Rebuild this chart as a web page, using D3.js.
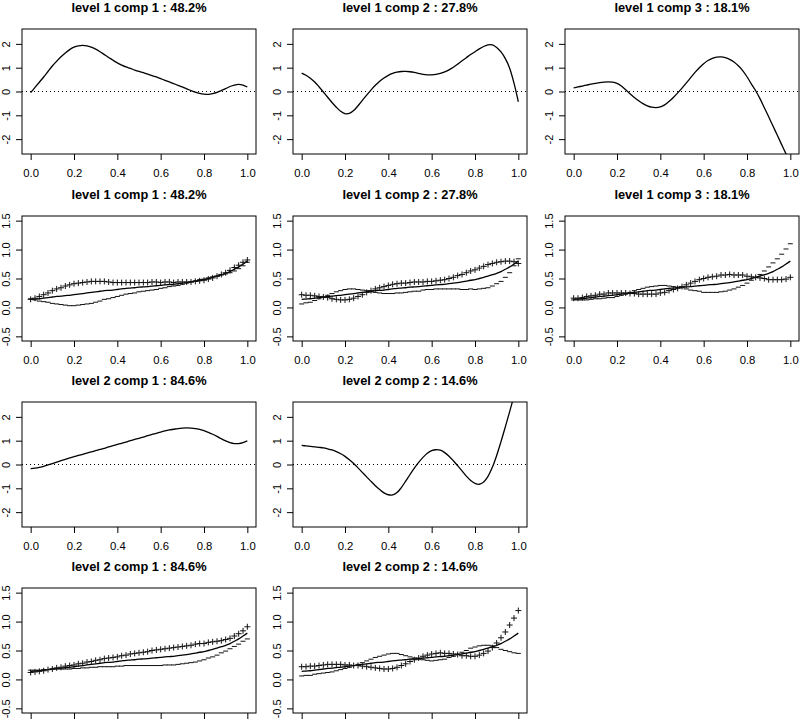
<!DOCTYPE html>
<html>
<head>
<meta charset="utf-8">
<script src="https://cdn.jsdelivr.net/npm/d3@7"></script>
<style>
body { margin: 0; background: #fff; }
svg { display: block; font-family: "Liberation Sans", Arial, Helvetica, sans-serif; }
</style>
</head>
<body>
<script>
var gridX = [0,0.02,0.04,0.06,0.08,0.1,0.12,0.14,0.16,0.18,0.2,0.22,0.24,0.26,0.28,0.3,0.32,0.34,0.36,0.38,0.4,0.42,0.44,0.46,0.48,0.5,0.52,0.54,0.56,0.58,0.6,0.62,0.64,0.66,0.68,0.7,0.72,0.74,0.76,0.78,0.8,0.82,0.84,0.86,0.88,0.9,0.92,0.94,0.96,0.98,1];
var xTicks = [0, 0.2, 0.4, 0.6, 0.8, 1];
var efTicks = [-2, -1, 0, 1, 2];
var meanTicks = [-0.5, 0, 0.5, 1, 1.5];
var titles = ["level 1 comp 1 : 48.2%", "level 1 comp 2 : 27.8%", "level 1 comp 3 : 18.1%", "level 2 comp 1 : 84.6%", "level 2 comp 2 : 14.6%"];

// overall mean function
var meanFn = [0.14,0.145,0.15,0.16,0.17,0.18,0.19,0.195,0.205,0.21,0.22,0.23,0.24,0.25,0.26,0.27,0.28,0.29,0.295,0.3,0.31,0.32,0.33,0.335,0.34,0.35,0.355,0.36,0.37,0.375,0.38,0.39,0.395,0.4,0.41,0.42,0.43,0.44,0.455,0.47,0.48,0.5,0.52,0.54,0.565,0.59,0.62,0.66,0.7,0.75,0.8];

// eigenfunctions
var efL1C1 = [-0.05,0.17,0.39,0.61,0.84,1.07,1.27,1.46,1.62,1.76,1.86,1.92,1.94,1.92,1.86,1.78,1.67,1.55,1.43,1.31,1.2,1.11,1.03,0.97,0.9,0.84,0.79,0.73,0.67,0.61,0.54,0.47,0.4,0.33,0.26,0.19,0.11,0.04,-0.03,-0.08,-0.11,-0.12,-0.09,-0.04,0.04,0.12,0.21,0.27,0.3,0.27,0.19];
var efL1C2 = [0.77,0.68,0.56,0.4,0.2,-0.02,-0.24,-0.46,-0.66,-0.83,-0.93,-0.92,-0.8,-0.6,-0.37,-0.15,0.06,0.26,0.43,0.57,0.68,0.76,0.81,0.84,0.845,0.83,0.8,0.76,0.72,0.7,0.7,0.72,0.76,0.82,0.91,1.02,1.15,1.29,1.42,1.55,1.67,1.79,1.89,1.96,1.96,1.85,1.66,1.38,0.98,0.35,-0.43];
var efL1C3 = [0.15,0.19,0.23,0.27,0.31,0.34,0.37,0.39,0.4,0.39,0.34,0.23,0.07,-0.09,-0.25,-0.39,-0.51,-0.6,-0.66,-0.68,-0.65,-0.56,-0.42,-0.25,-0.06,0.14,0.36,0.58,0.8,1,1.17,1.3,1.39,1.44,1.45,1.42,1.35,1.24,1.08,0.88,0.62,0.32,0.03,-0.3,-0.68,-1.06,-1.45,-1.84,-2.23,-2.62,-3];
var efL2C1 = [-0.17,-0.15,-0.12,-0.08,-0.02,0.04,0.1,0.16,0.22,0.28,0.33,0.38,0.43,0.48,0.53,0.58,0.63,0.68,0.74,0.79,0.84,0.89,0.94,1,1.05,1.1,1.15,1.21,1.26,1.31,1.36,1.41,1.45,1.48,1.51,1.53,1.54,1.53,1.51,1.47,1.42,1.35,1.27,1.18,1.08,0.99,0.92,0.88,0.88,0.92,0.99];
var efL2C2 = [0.8,0.78,0.76,0.74,0.72,0.7,0.66,0.61,0.54,0.45,0.34,0.2,0.04,-0.14,-0.33,-0.52,-0.71,-0.89,-1.05,-1.19,-1.27,-1.28,-1.18,-0.97,-0.7,-0.42,-0.15,0.09,0.3,0.47,0.58,0.62,0.6,0.5,0.35,0.16,-0.05,-0.27,-0.49,-0.67,-0.79,-0.83,-0.74,-0.5,-0.12,0.38,0.96,1.58,2.22,2.88,3.55];

// mean plus / minus a multiple of each eigenfunction
var plusL1C1 = [0.14,0.16,0.19,0.22,0.25,0.29,0.32,0.34,0.37,0.39,0.41,0.42,0.43,0.44,0.45,0.45,0.45,0.45,0.44,0.43,0.43,0.43,0.43,0.43,0.43,0.43,0.43,0.43,0.44,0.44,0.43,0.44,0.44,0.43,0.44,0.44,0.44,0.44,0.45,0.46,0.47,0.49,0.51,0.54,0.57,0.6,0.64,0.69,0.73,0.78,0.82];
var minusL1C1 = [0.15,0.13,0.11,0.1,0.09,0.07,0.06,0.05,0.04,0.03,0.03,0.04,0.05,0.06,0.07,0.09,0.11,0.14,0.15,0.17,0.19,0.21,0.23,0.24,0.25,0.27,0.28,0.29,0.3,0.31,0.33,0.34,0.36,0.37,0.38,0.4,0.42,0.44,0.46,0.48,0.49,0.51,0.53,0.54,0.56,0.58,0.6,0.63,0.67,0.72,0.78];
var plusL1C2 = [0.22,0.21,0.21,0.2,0.19,0.18,0.17,0.15,0.14,0.13,0.13,0.14,0.16,0.19,0.22,0.26,0.29,0.32,0.34,0.36,0.38,0.4,0.41,0.42,0.42,0.43,0.44,0.44,0.44,0.45,0.45,0.46,0.47,0.48,0.5,0.52,0.55,0.57,0.6,0.63,0.65,0.68,0.71,0.74,0.76,0.78,0.79,0.8,0.8,0.79,0.76];
var minusL1C2 = [0.06,0.08,0.09,0.12,0.15,0.18,0.21,0.24,0.27,0.29,0.31,0.32,0.32,0.31,0.3,0.29,0.27,0.26,0.25,0.24,0.24,0.24,0.25,0.25,0.26,0.27,0.28,0.28,0.3,0.31,0.31,0.32,0.32,0.32,0.32,0.32,0.32,0.31,0.31,0.32,0.31,0.32,0.33,0.34,0.37,0.41,0.45,0.52,0.6,0.72,0.84];
var plusL1C3 = [0.16,0.16,0.17,0.19,0.2,0.21,0.23,0.23,0.25,0.25,0.25,0.25,0.25,0.24,0.24,0.23,0.23,0.23,0.23,0.23,0.25,0.26,0.29,0.31,0.33,0.36,0.39,0.42,0.45,0.48,0.5,0.52,0.53,0.54,0.56,0.56,0.57,0.56,0.56,0.56,0.54,0.53,0.52,0.51,0.5,0.48,0.48,0.48,0.48,0.49,0.52];
var minusL1C3 = [0.13,0.13,0.13,0.13,0.14,0.15,0.15,0.16,0.17,0.17,0.19,0.21,0.23,0.26,0.29,0.31,0.33,0.35,0.36,0.37,0.38,0.38,0.37,0.36,0.35,0.34,0.32,0.3,0.29,0.28,0.26,0.26,0.26,0.26,0.27,0.28,0.3,0.32,0.35,0.38,0.42,0.47,0.52,0.57,0.63,0.7,0.77,0.84,0.92,1.01,1.1];
var plusL2C1 = [0.12,0.13,0.14,0.15,0.17,0.18,0.2,0.21,0.23,0.24,0.25,0.27,0.28,0.3,0.31,0.33,0.34,0.36,0.37,0.38,0.39,0.41,0.42,0.44,0.45,0.46,0.47,0.48,0.5,0.51,0.52,0.53,0.54,0.55,0.56,0.57,0.58,0.59,0.61,0.62,0.62,0.64,0.65,0.66,0.67,0.69,0.71,0.75,0.79,0.84,0.91];
var minusL2C1 = [0.16,0.16,0.16,0.17,0.17,0.18,0.18,0.18,0.18,0.18,0.19,0.19,0.2,0.2,0.21,0.21,0.22,0.22,0.22,0.22,0.23,0.23,0.24,0.24,0.24,0.24,0.24,0.24,0.24,0.24,0.24,0.25,0.25,0.25,0.26,0.27,0.28,0.29,0.3,0.32,0.34,0.37,0.39,0.42,0.46,0.49,0.53,0.57,0.61,0.66,0.7];
var plusL2C2 = [0.22,0.22,0.23,0.23,0.24,0.25,0.26,0.26,0.26,0.26,0.25,0.25,0.24,0.24,0.23,0.22,0.21,0.2,0.19,0.18,0.18,0.19,0.21,0.24,0.27,0.31,0.34,0.37,0.4,0.42,0.44,0.45,0.46,0.45,0.45,0.44,0.43,0.41,0.41,0.4,0.4,0.42,0.45,0.49,0.55,0.63,0.72,0.82,0.94,1.06,1.19];
var minusL2C2 = [0.06,0.07,0.07,0.09,0.1,0.11,0.12,0.13,0.15,0.17,0.19,0.21,0.24,0.26,0.29,0.32,0.35,0.38,0.4,0.42,0.44,0.45,0.45,0.43,0.41,0.39,0.37,0.35,0.34,0.33,0.32,0.33,0.34,0.35,0.38,0.4,0.44,0.47,0.5,0.54,0.56,0.58,0.59,0.59,0.58,0.55,0.52,0.5,0.48,0.46,0.45];

var width = 800;
var height = 720;
var colLeft = [22, 293, 565];
var rowTop = [29, 216, 402, 588];
var boxW = 234;
var boxH = 125;

var svg = d3.select("body").append("svg")
    .attr("width", width)
    .attr("height", height);

var clipCount = 0;

drawEigenPanel(0, 0, titles[0], efL1C1);
drawEigenPanel(1, 0, titles[1], efL1C2);
drawEigenPanel(2, 0, titles[2], efL1C3);
drawMeanPanel(0, 1, titles[0], plusL1C1, minusL1C1);
drawMeanPanel(1, 1, titles[1], plusL1C2, minusL1C2);
drawMeanPanel(2, 1, titles[2], plusL1C3, minusL1C3);
drawEigenPanel(0, 2, titles[3], efL2C1);
drawEigenPanel(1, 2, titles[4], efL2C2);
drawMeanPanel(0, 3, titles[3], plusL2C1, minusL2C1);
drawMeanPanel(1, 3, titles[4], plusL2C2, minusL2C2);

function setupPanel(col, row, title, yDomain, yTicks, yFormat) {
    var g = svg.append("g")
        .attr("transform", "translate(" + colLeft[col] + "," + rowTop[row] + ")");
    var x = d3.scaleLinear().domain([-0.04, 1.04]).range([0, boxW]);
    var span = yDomain[1] - yDomain[0];
    var y = d3.scaleLinear()
        .domain([yDomain[0] - span * 0.04, yDomain[1] + span * 0.04])
        .range([boxH, 0]);

    // the bottom row's tick labels fall below the page, as in the original
    var showXLabels = rowTop[row] + boxH + 12 < height;
    var xAxis = g.append("g")
        .attr("transform", "translate(0," + boxH + ")")
        .call(d3.axisBottom(x).tickValues(xTicks).tickSize(6)
            .tickFormat(showXLabels ? d3.format(".1f") : ""));
    xAxis.select(".domain").remove();
    xAxis.selectAll("text").attr("y", 22.5).attr("dy", null).attr("font-size", 11.3);

    var yAxis = g.append("g")
        .call(d3.axisLeft(y).tickValues(yTicks).tickSize(6).tickFormat(yFormat));
    yAxis.select(".domain").remove();
    yAxis.selectAll("text")
        .attr("x", null)
        .attr("dy", null)
        .attr("font-size", 11)
        .attr("text-anchor", "middle")
        .attr("transform", "translate(-12,0) rotate(-90)");

    g.selectAll(".tick text")
        .attr("font-family", "Liberation Sans, Arial, sans-serif")
        .attr("fill", "#000");
    g.selectAll(".tick line").attr("stroke", "#000");

    g.append("rect")
        .attr("width", boxW)
        .attr("height", boxH)
        .attr("fill", "none")
        .attr("stroke", "#000")
        .attr("stroke-width", 1);

    g.append("text")
        .attr("x", boxW / 2)
        .attr("y", -17)
        .attr("text-anchor", "middle")
        .attr("font-size", 12.8)
        .attr("font-weight", "bold")
        .attr("fill", "#000")
        .text(title);

    clipCount++;
    var clipId = "clip" + clipCount;
    g.append("clipPath").attr("id", clipId)
        .append("rect").attr("width", boxW).attr("height", boxH);
    var plot = g.append("g").attr("clip-path", "url(#" + clipId + ")");
    return { plot: plot, x: x, y: y };
}

function drawEigenPanel(col, row, title, values) {
    var p = setupPanel(col, row, title, [-2.43, 2.43], efTicks, d => String(d));
    p.plot.append("line")
        .attr("x1", 0)
        .attr("x2", boxW)
        .attr("y1", p.y(0))
        .attr("y2", p.y(0))
        .attr("stroke", "#000")
        .attr("stroke-width", 1)
        .attr("stroke-dasharray", "1,3");
    p.plot.append("path")
        .datum(values)
        .attr("fill", "none")
        .attr("stroke", "#000")
        .attr("stroke-width", 1.3)
        .attr("d", d3.line()
            .x((d, i) => p.x(gridX[i]))
            .y(d => p.y(d))
            .curve(d3.curveCatmullRom));
}

function drawMeanPanel(col, row, title, plusValues, minusValues) {
    var p = setupPanel(col, row, title, [-0.5, 1.5], meanTicks, d => d.toFixed(1));
    p.plot.append("path")
        .datum(meanFn)
        .attr("fill", "none")
        .attr("stroke", "#000")
        .attr("stroke-width", 1.3)
        .attr("d", d3.line()
            .x((d, i) => p.x(gridX[i]))
            .y(d => p.y(d))
            .curve(d3.curveCatmullRom));
    p.plot.selectAll(".plus")
        .data(plusValues)
        .enter().append("path")
        .attr("class", "plus")
        .attr("transform", (d, i) => "translate(" + p.x(gridX[i]) + "," + p.y(d) + ")")
        .attr("d", "M-3,0H3M0,-3V3")
        .attr("stroke", "#111")
        .attr("stroke-width", 1);
    p.plot.selectAll(".minus")
        .data(minusValues)
        .enter().append("path")
        .attr("class", "minus")
        .attr("transform", (d, i) => "translate(" + p.x(gridX[i]) + "," + p.y(d) + ")")
        .attr("d", "M-2.5,0H2.5")
        .attr("stroke", "#111")
        .attr("stroke-width", 1);
}
</script>
</body>
</html>
